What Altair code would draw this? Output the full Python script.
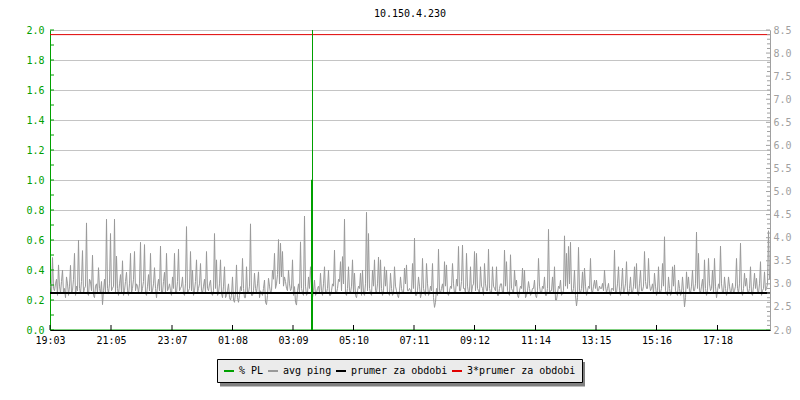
import altair as alt
import pandas as pd

FONT = "DejaVu Sans Mono"
GREEN = "#00a000"
GRAY = "#999999"
RED = "#e00000"

title_text = "10.150.4.230"

# x axis tick labels (time of day); the chart covers 24 h starting 19:03
x_labels = ["19:03", "21:05", "23:07", "01:08", "03:09", "05:10",
            "07:11", "09:12", "11:14", "13:15", "15:16", "17:18"]
start_minute = 19 * 60 + 3
x_tick_minutes = [((int(l[:2]) * 60 + int(l[3:])) - start_minute) % 1440 for l in x_labels]

# avg ping [ms], one sample every 2 minutes;
# ping_even holds the samples at 0, 4, 8 ... min, ping_odd those at 2, 6, 10 ... min
ping_even = [
    3.0, 3.57, 2.85, 3.1, 3.41, 2.8, 3.3, 2.9, 3.15, 2.75, 3.4, 2.85, 3.66, 2.95, 3.95, 2.8, 3.72, 2.9, 4.32, 2.75,
    3.05, 3.62, 2.7, 3.0, 3.35, 2.8, 2.55, 3.1, 4.4, 2.8, 4.09, 2.9, 4.4, 3.6, 2.75, 3.2, 3.5, 2.85, 3.25, 2.75,
    3.66, 2.9, 3.7, 3.0, 2.8, 3.9, 2.9, 3.85, 2.75, 3.2, 3.66, 2.85, 3.35, 2.7, 3.1, 3.82, 2.8, 3.25, 3.66, 2.9,
    2.85, 3.15, 3.66, 2.8, 3.75, 2.9, 3.15, 2.75, 4.24, 2.85, 3.70, 3.30, 2.85, 3.52, 2.9, 3.44, 2.8, 3.1, 3.70, 2.85,
    3.08, 2.75, 4.09, 3.52, 2.8, 3.52, 2.7, 3.37, 2.75, 3.0, 2.65, 3.15, 2.6, 3.41, 2.6, 2.94, 3.55, 2.7, 3.37, 2.8,
    4.30, 2.75, 3.23, 2.8, 3.26, 2.85, 2.75, 3.08, 2.55, 3.12, 2.8, 3.30, 3.66, 3.0, 3.96, 3.88, 3.70, 3.15, 2.9, 3.30,
    2.85, 3.52, 2.94, 2.54, 3.0, 3.91, 2.8, 4.47, 2.75, 3.15, 3.37, 2.7, 3.08, 2.8, 2.95, 3.23, 2.75, 3.37, 2.8, 3.30,
    2.75, 3.0, 3.73, 2.8, 3.1, 3.48, 3.59, 4.40, 2.75, 3.37, 2.8, 3.52, 3.23, 2.7, 2.95, 3.23, 3.30, 2.75, 4.55, 4.09,
    2.8, 3.30, 3.52, 2.8, 3.58, 3.52, 2.75, 3.37, 3.30, 2.8, 3.23, 2.75, 3.37, 2.85, 2.7, 3.15, 2.8, 3.34, 3.41, 2.85,
    2.85, 3.44, 3.99, 2.75, 3.15, 2.7, 3.55, 2.8, 3.44, 2.75, 2.95, 3.44, 2.49, 2.9, 3.75, 2.8, 3.0, 3.48, 3.41, 2.75,
    2.95, 3.44, 2.8, 3.1, 3.81, 2.85, 3.84, 2.9, 3.66, 2.8, 3.37, 2.95, 3.70, 3.66, 2.85, 3.37, 2.9, 3.44, 2.85, 3.75,
    2.8, 3.37, 2.9, 3.37, 2.75, 3.0, 2.8, 3.73, 3.48, 2.8, 3.63, 2.85, 3.30, 3.08, 2.7, 2.95, 3.34, 3.30, 2.75, 3.05,
    2.75, 2.9, 3.08, 2.7, 3.55, 2.8, 2.95, 3.15, 2.75, 4.18, 2.85, 3.15, 3.37, 2.65, 2.95, 3.08, 2.8, 4.04, 3.66, 3.81,
    3.90, 2.8, 3.30, 2.52, 3.79, 2.8, 3.26, 3.34, 2.75, 2.95, 3.55, 2.8, 3.08, 3.08, 2.85, 2.9, 3.01, 3.30, 2.8, 3.01,
    2.75, 2.9, 3.73, 2.8, 3.37, 2.75, 3.34, 2.85, 3.48, 2.75, 3.15, 2.8, 3.37, 3.44, 2.75, 3.30, 2.85, 3.70, 2.9, 3.55,
    2.85, 3.0, 3.23, 2.75, 3.37, 2.8, 3.44, 4.02, 2.8, 3.15, 2.75, 3.37, 3.41, 2.8, 3.08, 2.75, 3.15, 2.5, 3.26, 3.15,
    2.8, 3.30, 2.85, 4.12, 3.66, 2.8, 3.1, 3.52, 2.75, 3.55, 2.85, 3.30, 3.55, 2.7, 3.0, 3.82, 2.8, 3.15, 2.75, 3.15,
    2.8, 3.01, 2.85, 3.55, 2.8, 3.88, 2.75, 3.23, 3.12, 2.8, 3.37, 2.75, 3.23, 3.12, 2.8, 3.48, 2.85, 3.26, 2.9, 4.15,
]
ping_odd = [
    2.8, 2.9, 3.0, 2.75, 2.95, 3.05, 2.8, 2.7, 3.0, 2.95,
    2.8, 3.1, 2.75, 2.85, 2.9, 3.05, 2.8, 2.95, 2.8, 3.1,
    2.85, 2.75, 2.95, 2.8, 2.9, 3.05, 2.85, 2.8, 2.9, 3.0,
    2.85, 2.95, 2.8, 2.9, 3.0, 2.8, 2.75, 3.05, 2.85, 3.0,
    2.8, 3.1, 2.85, 2.95, 3.0, 2.8, 3.05, 2.8, 2.95, 2.85,
    2.8, 3.0, 2.9, 2.95, 2.85, 2.8, 3.05, 2.8, 2.85, 3.0,
    2.75, 2.9, 2.8, 3.05, 2.85, 2.95, 2.8, 3.0, 2.8, 2.9,
    2.85, 2.75, 3.05, 2.8, 3.0, 2.85, 2.95, 2.8, 2.9, 3.0,
    2.8, 2.85, 2.9, 2.75, 3.0, 2.8, 2.95, 2.7, 2.85, 2.7,
    2.75, 2.65, 2.8, 2.7, 2.75, 2.85, 2.9, 2.7, 2.8, 2.95,
    2.75, 2.85, 2.9, 3.0, 2.7, 2.8, 2.9, 2.6, 2.75, 2.95,
    2.85, 3.1, 2.9, 3.2, 3.0, 3.15, 2.95, 3.05, 2.85, 3.0,
    2.9, 2.75, 2.6, 2.85, 2.8, 2.9, 2.75, 2.95, 2.8, 2.9,
    3.0, 2.85, 2.75, 2.9, 2.8, 2.85, 3.0, 2.8, 2.9, 2.75,
    2.85, 2.95, 2.8, 2.9, 3.05, 2.85, 3.0, 2.8, 2.9, 2.85,
    2.95, 2.8, 2.75, 2.85, 2.9, 2.75, 2.8, 3.0, 2.85, 2.9,
    2.75, 2.95, 2.85, 3.0, 2.8, 2.9, 2.85, 2.95, 2.8, 2.75,
    2.9, 2.8, 2.95, 2.75, 2.85, 2.9, 2.8, 3.0, 2.85, 2.9,
    2.8, 2.9, 2.75, 2.85, 2.95, 2.8, 2.9, 2.75, 3.0, 2.8,
    2.85, 2.7, 2.6, 2.75, 2.85, 2.9, 2.8, 2.95, 2.8, 2.85,
    2.9, 3.0, 2.8, 2.95, 2.85, 3.05, 2.9, 2.8, 2.95, 2.85,
    2.8, 3.0, 2.85, 2.9, 2.8, 2.95, 2.75, 3.0, 2.85, 2.9,
    2.8, 2.95, 2.85, 2.75, 2.9, 3.0, 2.8, 2.95, 2.85, 2.75,
    2.9, 2.8, 2.95, 2.75, 2.85, 2.9, 2.8, 2.7, 2.85, 2.9,
    2.8, 2.9, 2.75, 2.85, 2.95, 2.8, 2.9, 2.75, 2.9, 2.8,
    2.85, 2.8, 2.65, 2.8, 2.9, 2.75, 2.85, 2.95, 2.9, 3.0,
    2.85, 2.9, 2.75, 2.7, 2.85, 2.9, 2.8, 2.95, 2.85, 2.9,
    2.85, 2.95, 2.9, 2.85, 2.95, 2.9, 2.85, 2.95, 2.9, 2.8,
    2.9, 2.85, 2.8, 3.0, 2.85, 2.95, 2.8, 3.0, 2.85, 2.9,
    2.8, 2.95, 2.9, 2.8, 3.0, 2.85, 2.95, 3.05, 2.9, 3.0,
    2.9, 2.8, 2.95, 2.85, 2.8, 2.9, 2.95, 2.85, 2.75, 2.9,
    2.8, 2.95, 2.85, 2.75, 2.9, 2.8, 2.85, 2.7, 2.9, 2.85,
    2.95, 2.85, 3.0, 2.9, 2.85, 2.95, 2.8, 2.9, 2.85, 3.0,
    2.9, 2.8, 2.95, 2.85, 2.9, 3.0, 2.8, 2.9, 2.85, 2.95,
    2.85, 2.8, 2.95, 2.9, 3.0, 2.85, 2.9, 2.95, 2.85, 2.9,
    2.8, 2.95, 2.9, 2.85, 3.0, 2.75, 2.9, 2.85, 3.0, 3.1,
]
avg_ping_ms = [v for pair in zip(ping_even, ping_odd) for v in pair]
ping_minutes = [2 * i for i in range(len(avg_ping_ms))]

# packet loss [%]: a single spike around 03:45 (1 %, then 2 %)
pl_minutes = [0, 522, 522, 524, 524, 524, 1440]
pl_values = [0.0, 0.0, 1.0, 1.0, 2.0, 0.0, 0.0]

prumer = 2.8  # average ping over the period
triple_prumer = 3 * prumer

left_tick_values = [round(0.1 * i, 1) for i in range(21)]
left_label_values = [round(0.2 * i, 1) for i in range(11)]
right_major_values = [round(2.0 + 0.5 * i, 1) for i in range(14)]
right_minor_values = [round(2.0 + 0.1 * i, 1) for i in range(66) if i % 5 != 0]

series_names = ["% PL", "avg ping", "prumer za obdobi", "3*prumer za obdobi"]
series_colors = [GREEN, GRAY, "#000000", RED]

W, H = 720, 300

color_scale = alt.Scale(domain=series_names, range=series_colors)
legend = alt.Legend(
    title=None, orient="none", legendX=167, legendY=329, direction="horizontal", columns=4,
    fillColor="#ebebeb", strokeColor="#000000", padding=6, symbolType="stroke",
    symbolStrokeWidth=2, symbolSize=100, labelFont=FONT, labelFontSize=10, labelColor="#000000",
    columnPadding=0, labelOffset=4, gridAlign="none",
)


def color_enc():
    return alt.Color("s:N", scale=color_scale, legend=legend)


x_scale = alt.Scale(domain=[0, 1440], nice=False, zero=False)
x_axis = alt.Axis(
    values=x_tick_minutes, ticks=False, grid=False, domainColor="#000000", labelColor="#000000",
    labelFont=FONT, labelFontSize=10, labelPadding=5, title=None, zindex=1, labelFlush=False,
    labelOverlap=False,
    labelExpr="timeFormat(datetime(2000, 0, 1, 19, 3 + datum.value), '%H:%M')",
)
right_scale = alt.Scale(domain=[2, 8.5], nice=False, zero=False)
right_axis = alt.Axis(
    orient="right", values=right_major_values, format=".1f", ticks=False, grid=False,
    domainColor="#a0a0a0", labelColor="#a0a0a0", labelFont=FONT, labelFontSize=10,
    labelPadding=3, title=None, labelFlush=False, labelOverlap=False,
)
left_scale = alt.Scale(domain=[0, 2], nice=False, zero=True)
left_axis = alt.Axis(
    orient="left", values=left_label_values, format=".1f", ticks=False, grid=True,
    gridColor="#c4c4c4", domainColor=GREEN, labelColor=GREEN, labelFont=FONT,
    labelFontSize=10, labelPadding=6, title=None, labelFlush=False, labelOverlap=False,
)

ping_df = pd.DataFrame({"m": ping_minutes, "v": avg_ping_ms, "s": "avg ping"})
pl_df = pd.DataFrame({"m": pl_minutes, "v": pl_values, "s": "% PL",
                      "i": list(range(len(pl_minutes)))})

ping_line = alt.Chart(ping_df).mark_line(strokeWidth=1, clip=True, xOffset=0.5).encode(
    x=alt.X("m:Q", scale=x_scale, axis=x_axis),
    y=alt.Y("v:Q", scale=right_scale, axis=right_axis),
    color=color_enc(),
)
avg_rule = alt.Chart(pd.DataFrame({"v": [prumer], "s": ["prumer za obdobi"]})).mark_rule(strokeWidth=2).encode(
    y=alt.Y("v:Q", scale=right_scale, axis=right_axis),
    color=color_enc(),
)
triple_rule = alt.Chart(pd.DataFrame({"v": [triple_prumer], "s": ["3*prumer za obdobi"]})).mark_rule(strokeWidth=1).encode(
    y=alt.Y("v:Q", scale=right_scale, axis=right_axis),
    color=color_enc(),
)
right_major = alt.Chart(pd.DataFrame({"v": right_major_values})).mark_rule(color="#a0a0a0").encode(
    y=alt.Y("v:Q", scale=right_scale, axis=right_axis),
    x=alt.value(W - 4), x2=alt.value(W),
)
right_minor = alt.Chart(pd.DataFrame({"v": right_minor_values})).mark_rule(color="#a0a0a0").encode(
    y=alt.Y("v:Q", scale=right_scale, axis=right_axis),
    x=alt.value(W - 3), x2=alt.value(W),
)
ping_group = alt.layer(ping_line, avg_rule, triple_rule, right_major, right_minor)

pl_line = alt.Chart(pl_df).mark_line(strokeWidth=1, clip=True, xOffset=0.5).encode(
    x=alt.X("m:Q", scale=x_scale, axis=x_axis),
    y=alt.Y("v:Q", scale=left_scale, axis=left_axis),
    order=alt.Order("i:Q"),
    color=color_enc(),
)
left_ticks = alt.Chart(pd.DataFrame({"v": left_tick_values})).mark_rule(color=GREEN).encode(
    y=alt.Y("v:Q", scale=left_scale, axis=left_axis),
    x=alt.value(0), x2=alt.value(4),
)
x_ticks = alt.Chart(pd.DataFrame({"m": x_tick_minutes})).mark_rule(color="#000000").encode(
    x=alt.X("m:Q", scale=x_scale, axis=x_axis),
    y=alt.value(H - 5), y2=alt.value(H),
)
pl_group = alt.layer(pl_line, left_ticks, x_ticks)

shadow = alt.Chart(pd.DataFrame({"a": [0]})).mark_rect(color="#808080").encode(
    x=alt.value(170), x2=alt.value(535), y=alt.value(332), y2=alt.value(356.5),
)
title_mark = alt.Chart(pd.DataFrame({"t": [title_text]})).mark_text(
    font=FONT, fontSize=10, color="#000000", align="center", baseline="alphabetic",
).encode(text="t:N", x=alt.value(W / 2), y=alt.value(-13))

chart = alt.layer(shadow, title_mark, ping_group, pl_group).resolve_scale(y="independent").properties(
    width=W, height=H,
    autosize=alt.AutoSizeParams(type="none"),
    padding={"left": 42, "top": 22, "right": 22, "bottom": 62},
).configure_view(stroke=None).configure(background="white")

chart.save("out.html", embed_options={"renderer": "svg", "actions": False})
